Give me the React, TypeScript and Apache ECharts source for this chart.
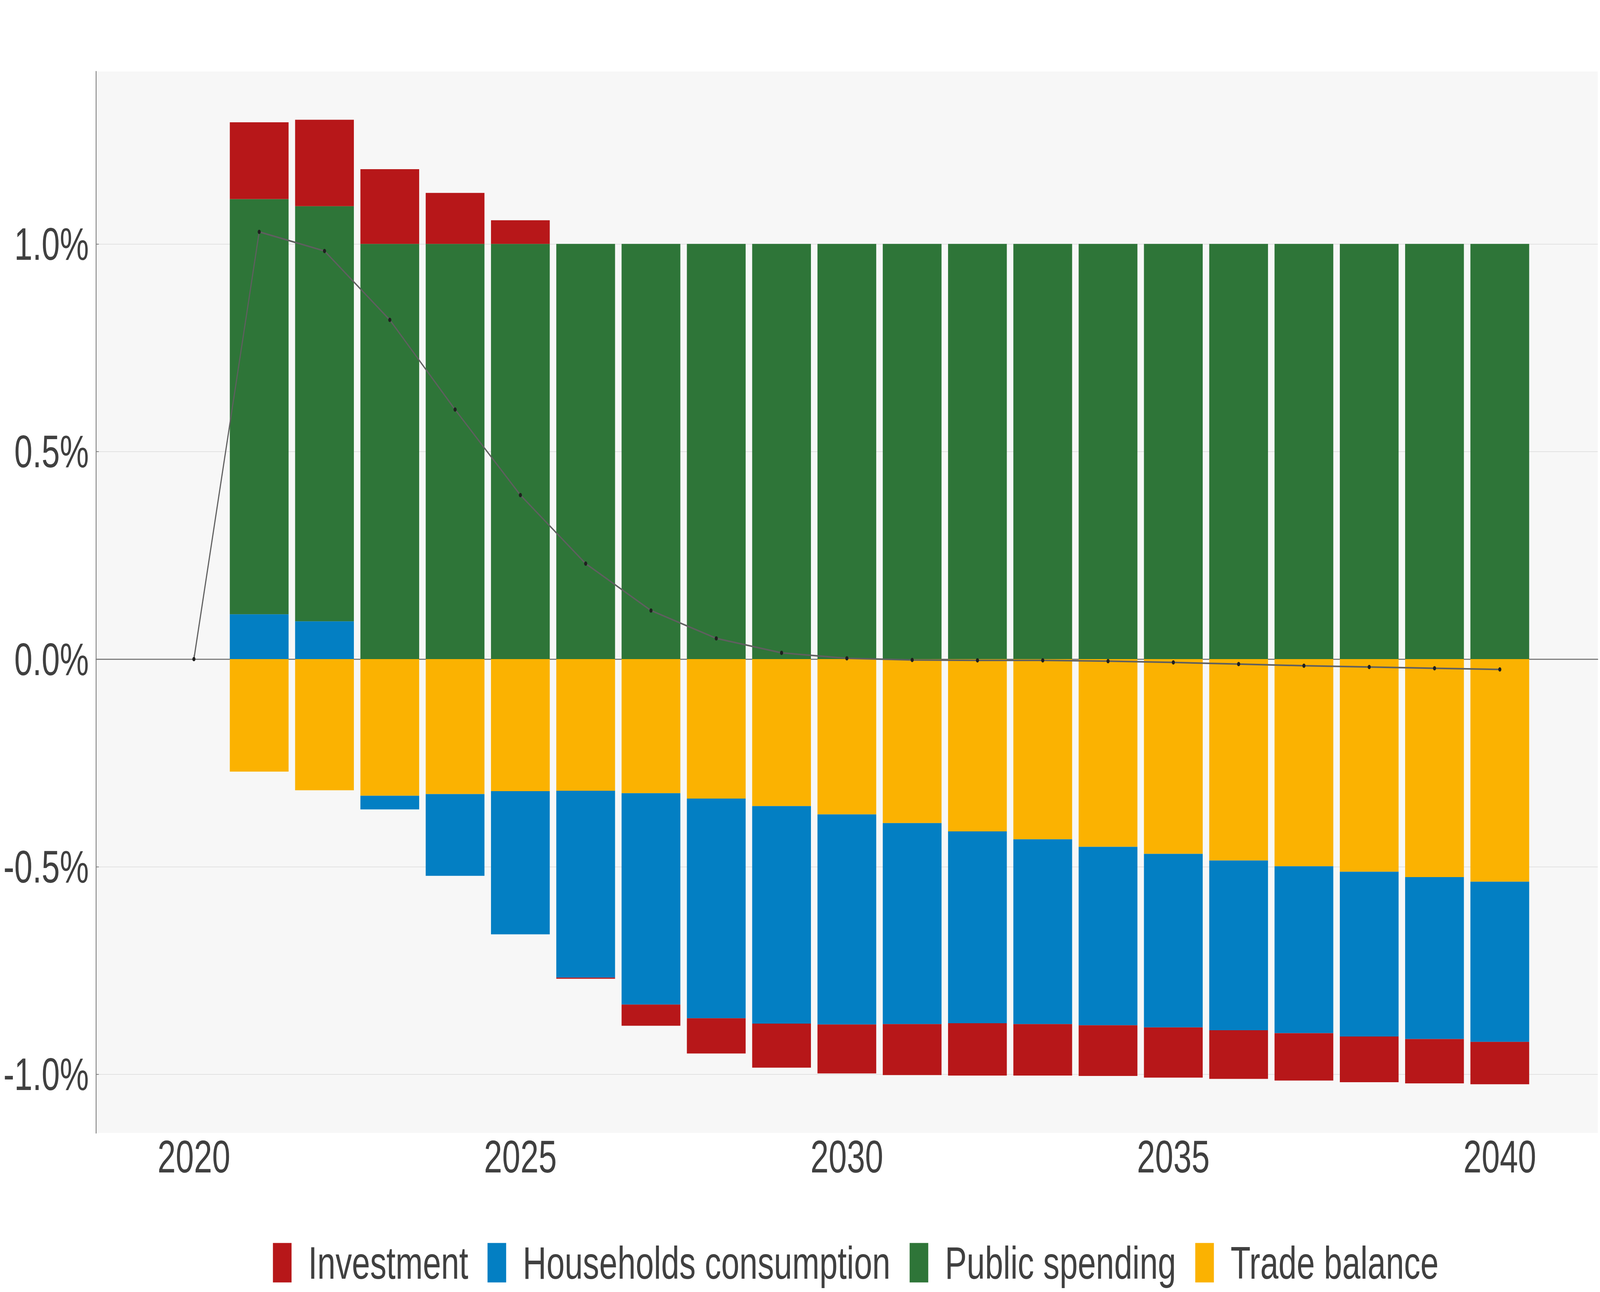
import React, { useEffect, useRef } from 'react';
import * as echarts from 'echarts';

// Category axis (2019 and 2041 are empty padding bands so the axis spans 2018.5–2041.5)
const axisYears = ['2019', '2020', '2021', '2022', '2023', '2024', '2025', '2026', '2027', '2028', '2029', '2030',
  '2031', '2032', '2033', '2034', '2035', '2036', '2037', '2038', '2039', '2040', '2041'];
const tickLabelYears = ['2020', '2025', '2030', '2035', '2040'];

const barYears = ['2021', '2022', '2023', '2024', '2025', '2026', '2027', '2028', '2029', '2030',
  '2031', '2032', '2033', '2034', '2035', '2036', '2037', '2038', '2039', '2040'];

// contributions, % of GDP
const investment = [0.185, 0.208, 0.180, 0.123, 0.057, -0.003, -0.051, -0.085, -0.106, -0.118,
  -0.123, -0.126, -0.124, -0.122, -0.121, -0.117, -0.114, -0.110, -0.107, -0.102];
const households = [0.108, 0.091, -0.033, -0.197, -0.345, -0.450, -0.509, -0.529, -0.524, -0.506,
  -0.484, -0.462, -0.445, -0.430, -0.418, -0.409, -0.402, -0.397, -0.390, -0.386];
const publicSpending = [1.0, 1.0, 1.0, 1.0, 1.0, 1.0, 1.0, 1.0, 1.0, 1.0,
  1.0, 1.0, 1.0, 1.0, 1.0, 1.0, 1.0, 1.0, 1.0, 1.0];
const tradeBalance = [-0.271, -0.316, -0.329, -0.325, -0.318, -0.317, -0.323, -0.336, -0.354, -0.374,
  -0.395, -0.415, -0.434, -0.452, -0.469, -0.485, -0.499, -0.512, -0.525, -0.536];

const lineYears = ['2020', '2021', '2022', '2023', '2024', '2025', '2026', '2027', '2028', '2029', '2030',
  '2031', '2032', '2033', '2034', '2035', '2036', '2037', '2038', '2039', '2040'];
const total = [0, 1.029, 0.983, 0.817, 0.601, 0.395, 0.230, 0.117, 0.050, 0.015, 0.002,
  -0.002, -0.003, -0.003, -0.005, -0.008, -0.012, -0.016, -0.019, -0.022, -0.025];

const seriesNames = ['Investment', 'Households consumption', 'Public spending', 'Trade balance'];
const colors = {
  investment: '#B71719',
  households: '#037FC3',
  publicSpending: '#2E7538',
  tradeBalance: '#FBB201',
};

const FONT = '"Liberation Sans", Arial, sans-serif';
const TEXT = '#404040';
const REF_W = 5669;
const REF_H = 3307;

function align(years: string[], values: number[]) {
  return axisYears.map((y) => {
    const i = years.indexOf(y);
    return i >= 0 ? values[i] : null;
  });
}

export default function App() {
  const ref = useRef<HTMLDivElement>(null);

  useEffect(() => {
    if (!ref.current) return;
    const chart = echarts.init(ref.current, undefined, { renderer: 'svg', width: REF_W, height: REF_H });
    const isLabelYear = (_i: number, v: string) => tickLabelYears.indexOf(String(v)) >= 0;

    const barSeries = (name: string, data: number[], color: string) => ({
      name,
      type: 'bar',
      stack: 'contrib',
      barWidth: '90%',
      data: align(barYears, data),
      itemStyle: { color },
      emphasis: { disabled: true },
    });

    chart.setOption({
      animation: false,
      backgroundColor: '#ffffff',
      grid: {
        left: 340,
        right: 8,
        top: 183,
        bottom: 407,
        containLabel: false,
        show: true,
        backgroundColor: '#f7f7f7',
        borderWidth: 0,
      },
      legend: {
        data: seriesNames,
        left: 962,
        top: 3169,
        orient: 'horizontal',
        icon: 'rect',
        itemWidth: 66,
        itemHeight: 101,
        itemGap: 68,
        selectedMode: false,
        textStyle: {
          fontSize: 116,
          color: TEXT,
          fontFamily: FONT,
          padding: [0, 0, 0, 54],
          lineHeight: 101,
        },
      },
      xAxis: {
        type: 'category',
        data: axisYears,
        boundaryGap: true,
        axisLine: { show: true, lineStyle: { color: '#7f7f7f', width: 3 } },
        axisTick: {
          show: true,
          inside: true,
          length: 11,
          alignWithLabel: true,
          interval: isLabelYear,
          lineStyle: { color: '#7f7f7f', width: 2 },
        },
        axisLabel: {
          interval: isLabelYear,
          fontSize: 116,
          color: TEXT,
          fontFamily: FONT,
          margin: 2,
        },
        splitLine: { show: false },
      },
      yAxis: {
        type: 'value',
        min: -1.1414,
        max: 1.4153,
        splitNumber: 5,
        axisLine: { show: true, lineStyle: { color: '#7f7f7f', width: 3 } },
        axisTick: { show: true, inside: true, length: 10, lineStyle: { color: '#7f7f7f', width: 2 } },
        axisLabel: {
          fontSize: 116,
          color: TEXT,
          fontFamily: FONT,
          margin: 25,
          showMinLabel: false,
          showMaxLabel: false,
          formatter: (v: number) => {
            if (Math.abs(v * 2 - Math.round(v * 2)) > 1e-6) return '';
            return v.toFixed(1) + '%';
          },
        },
        splitLine: {
          show: true,
          showMinLine: false,
          showMaxLine: false,
          lineStyle: { color: '#e2e2e2', width: 2 },
        },
      },
      series: [
        barSeries('Trade balance', tradeBalance, colors.tradeBalance),
        barSeries('Households consumption', households, colors.households),
        barSeries('Public spending', publicSpending, colors.publicSpending),
        barSeries('Investment', investment, colors.investment),
        {
          name: 'Total',
          type: 'line',
          data: align(lineYears, total),
          symbol: 'circle',
          symbolSize: 11,
          showSymbol: true,
          showAllSymbol: true,
          itemStyle: { color: '#1f1f1f', borderWidth: 0 },
          lineStyle: { color: '#5f5f5f', width: 4 },
          z: 10,
          emphasis: { disabled: true },
        },
      ],
    });

    return () => chart.dispose();
  }, []);

  // The browser viewport may be narrower than the reference canvas; draw at the
  // reference size and scale the whole drawing to fill the viewport.
  const vw = typeof window !== 'undefined' ? window.innerWidth : REF_W;
  const vh = typeof window !== 'undefined' ? window.innerHeight : REF_H;
  const sx = vw / REF_W;
  const sy = vh / REF_H;

  return (
    <div
      ref={ref}
      style={{
        position: 'fixed',
        left: 0,
        top: 0,
        width: REF_W + 'px',
        height: REF_H + 'px',
        transformOrigin: '0 0',
        transform: `scale(${sx}, ${sy})`,
      }}
    />
  );
}
